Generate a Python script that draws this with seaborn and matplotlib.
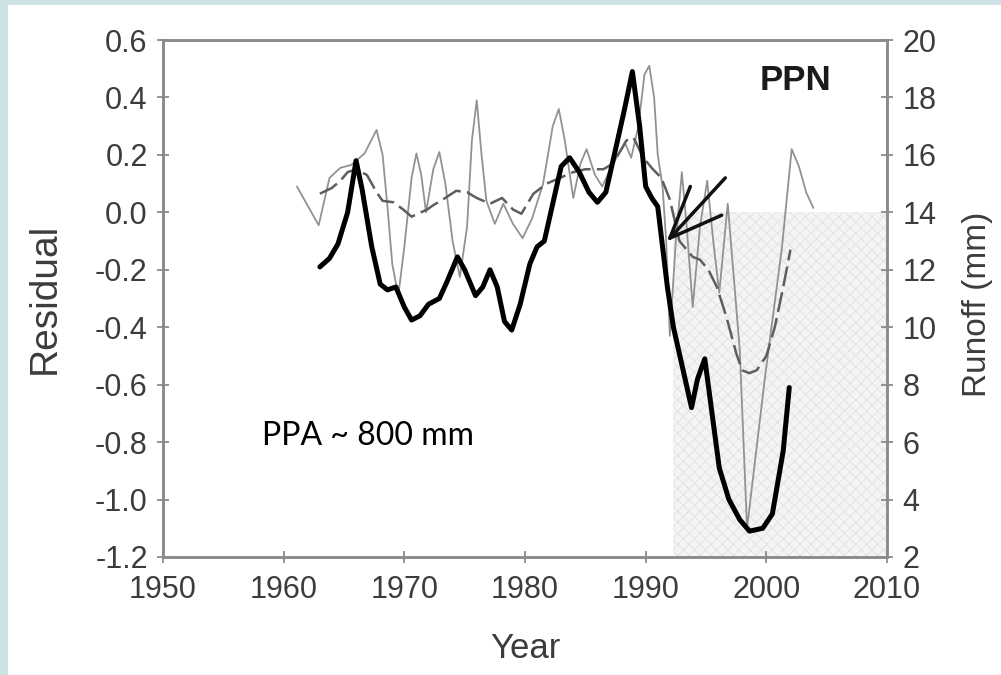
import matplotlib
matplotlib.use("Agg")
import matplotlib.pyplot as plt
from matplotlib.patches import Rectangle
import seaborn as sns
import numpy as np

# ---------------- data ----------------
# thick black line: residual (left axis)
resid_year = [1963.0, 1963.8, 1964.5, 1965.3, 1966.0, 1966.5, 1967.3, 1968.0, 1968.6, 1969.3,
              1970.0, 1970.6, 1971.3, 1972.0, 1972.9, 1973.5, 1974.4, 1975.0, 1975.9, 1976.5,
              1977.1, 1977.7, 1978.3, 1978.9, 1979.6, 1980.4, 1981.0, 1981.6, 1982.3, 1983.0,
              1983.7, 1984.5, 1985.3, 1986.0, 1986.7, 1987.4, 1988.2, 1988.9, 1989.5, 1990.0,
              1990.5, 1991.0, 1991.4, 1991.8, 1992.3, 1993.0, 1993.8, 1994.3, 1994.9, 1995.5,
              1996.1, 1996.9, 1997.8, 1998.6, 1999.7, 2000.5, 2001.4, 2001.9]
resid_val = [-0.19, -0.16, -0.11, 0.00, 0.18, 0.08, -0.12, -0.25, -0.27, -0.26,
             -0.33, -0.375, -0.36, -0.32, -0.30, -0.245, -0.155, -0.20, -0.29, -0.26,
             -0.20, -0.26, -0.38, -0.41, -0.32, -0.18, -0.12, -0.10, 0.03, 0.16,
             0.19, 0.14, 0.07, 0.035, 0.07, 0.20, 0.35, 0.49, 0.30, 0.09,
             0.05, 0.02, -0.12, -0.26, -0.40, -0.53, -0.68, -0.58, -0.51, -0.70,
             -0.89, -1.00, -1.07, -1.11, -1.10, -1.05, -0.83, -0.61]

# thin grey line: runoff (right axis, mm)
runoff_year = [1961.1, 1962.9, 1963.8, 1964.7, 1965.6, 1966.7, 1967.7, 1968.2, 1968.6, 1969.0,
               1969.5, 1970.0, 1970.6, 1971.0, 1971.4, 1971.8, 1972.4, 1972.9, 1973.4, 1974.0,
               1974.6, 1975.2, 1975.6, 1976.0, 1976.4, 1976.8, 1977.5, 1978.2, 1979.0, 1979.8,
               1980.6, 1981.5, 1982.3, 1982.8, 1983.3, 1984.0, 1984.6, 1985.1, 1985.8, 1986.4,
               1987.3, 1988.3, 1988.8, 1989.4, 1989.9, 1990.3, 1990.7, 1991.0, 1991.4, 1991.7,
               1992.0, 1992.5, 1993.0, 1993.4, 1993.9, 1994.5, 1995.1, 1995.6, 1996.1, 1996.8,
               1997.8, 1998.4, 1999.9, 2001.3, 2002.1, 2002.7, 2003.3, 2003.9]
runoff_val = [14.9, 13.55, 15.2, 15.55, 15.65, 16.05, 16.87, 16.0, 14.2, 12.2,
              11.1, 12.8, 15.2, 16.05, 15.3, 14.0, 15.5, 16.1, 15.0, 13.0,
              11.75, 13.5, 16.5, 17.9, 16.0, 14.4, 13.6, 14.3, 13.6, 13.1,
              13.8, 15.0, 17.0, 17.6, 16.5, 14.5, 15.7, 16.2, 15.3, 14.9,
              15.7, 16.4, 15.9, 17.0, 18.8, 19.1, 18.0, 16.0, 14.9, 13.0,
              9.7, 13.0, 15.4, 13.5, 10.7, 13.5, 15.1, 13.0, 11.2, 14.3,
              9.2, 3.0, 8.3, 12.8, 16.2, 15.6, 14.7, 14.15]

# dashed grey line: smoothed runoff (right axis, mm)
smooth_year = [1963.0, 1964.0, 1964.7, 1965.3, 1966.0, 1966.9, 1967.7, 1968.2, 1969.1, 1969.9,
               1970.6, 1971.9, 1972.4, 1973.2, 1974.3, 1975.2, 1976.0, 1977.1, 1978.1, 1979.0,
               1979.7, 1980.7, 1981.8, 1982.9, 1984.0, 1985.0, 1986.5, 1987.3, 1988.4, 1989.0,
               1989.8, 1990.6, 1991.3, 1992.0, 1992.8, 1993.9, 1994.5, 1995.2, 1995.9, 1996.7,
               1997.5, 1998.0, 1998.6, 1999.2, 2000.0, 2000.7, 2001.4, 2002.0]
smooth_val = [14.65, 14.85, 15.1, 15.4, 15.5, 15.3, 14.7, 14.4, 14.35, 14.1,
              13.85, 14.1, 14.25, 14.45, 14.75, 14.7, 14.5, 14.3, 14.5, 14.1,
              13.95, 14.65, 15.0, 15.2, 15.4, 15.5, 15.5, 15.7, 16.5, 16.6,
              15.9, 15.5, 15.2, 14.45, 13.0, 12.45, 12.35, 12.0, 11.4, 10.35,
              9.1, 8.5, 8.4, 8.5, 9.0, 10.0, 11.4, 12.7]

# annotation lines (trend fan), residual axis
fan_origin = (1992.0, -0.09)
fan_end_year = [1996.6, 1993.7, 1996.3]
fan_end_val = [0.12, 0.09, -0.01]

# shaded drought period
shade_years = [1992.25, 2010.0]
shade_runoff = [2.0, 14.0]

x_ticks = [1950, 1960, 1970, 1980, 1990, 2000, 2010]
left_ticks = [0.6, 0.4, 0.2, 0.0, -0.2, -0.4, -0.6, -0.8, -1.0, -1.2]
right_ticks = [2, 4, 6, 8, 10, 12, 14, 16, 18, 20]

# ---------------- style ----------------
sns.set_style("ticks")
plt.rcParams['font.family'] = ['Liberation Sans', 'DejaVu Sans']
plt.rcParams['hatch.linewidth'] = 0.5

spine_c = '#8a8a8a'
text_c = '#3c3c3c'

fig = plt.figure(figsize=(10.01, 6.75), dpi=100, facecolor='#cde2e4')
fig.patches.append(Rectangle((8 / 1001, 0), 1, 670 / 675, transform=fig.transFigure,
                             facecolor='white', edgecolor='none', zorder=-10))

ax = fig.add_axes([163 / 1001, (675 - 557) / 675, 724 / 1001, 517 / 675])
ax2 = ax.twinx()
ax2.set_zorder(1)
ax.set_zorder(2)
ax.patch.set_visible(False)
ax2.patch.set_visible(False)

# shading on runoff axis (below everything)
ax2.fill_between(shade_years, shade_runoff[0], shade_runoff[1], facecolor='#f4f4f4',
                 edgecolor='#dedede', hatch='xxx', linewidth=0, zorder=0)

sns.lineplot(x=runoff_year, y=runoff_val, ax=ax2, color='#929292', linewidth=1.3,
             estimator=None, sort=False, zorder=2)
sns.lineplot(x=smooth_year, y=smooth_val, ax=ax2, color='#5e5e5e', linewidth=1.8,
             estimator=None, sort=False, linestyle=(0, (8, 2.5)), zorder=3)

sns.lineplot(x=resid_year, y=resid_val, ax=ax, color='black', linewidth=3.6,
             estimator=None, sort=False, zorder=4, solid_joinstyle='round')
for ex, ey in zip(fan_end_year, fan_end_val):
    ax.plot([fan_origin[0], ex], [fan_origin[1], ey], color='#111111', linewidth=2.5,
            solid_capstyle='round', zorder=5)

ax.set_xlim(1950, 2010)
ax.set_ylim(-1.2, 0.6)
ax2.set_ylim(2, 20)
ax.set_xticks(x_ticks)
ax.set_yticks(left_ticks)
ax.set_yticklabels([f"{v:.1f}" for v in left_ticks])
ax2.set_yticks(right_ticks)

for a in (ax, ax2):
    for s in a.spines.values():
        s.set_color(spine_c)
        s.set_linewidth(1.8)
        s.set_visible(True)
    a.tick_params(direction='inout', length=8, width=1.3, color=spine_c,
                  labelsize=22, labelcolor=text_c)
ax.tick_params(axis='y', pad=7)
ax.tick_params(axis='x', pad=9)
ax2.tick_params(axis='y', pad=7)

ax.set_xlabel("Year", fontsize=25, color=text_c)
ax.set_ylabel("Residual", fontsize=28, color=text_c)
ax2.set_ylabel("Runoff (mm)", fontsize=24, color=text_c)
ax.xaxis.set_label_coords(0.5, -0.145)
ax.yaxis.set_label_coords(-0.138, 0.5)
ax2.yaxis.set_label_coords(1.104, 0.488)

ax.text(2002.4, 0.46, "PPN", fontsize=25, fontweight='bold', color='#1a1a1a',
        ha='center', va='center')
ax.text(1958.2, -0.78, "PPA ~ 800 mm", fontsize=23, color='black',
        family=['Lato', 'DejaVu Sans'], ha='left', va='center')

fig.savefig("out.png", dpi=100, facecolor=fig.get_facecolor())
